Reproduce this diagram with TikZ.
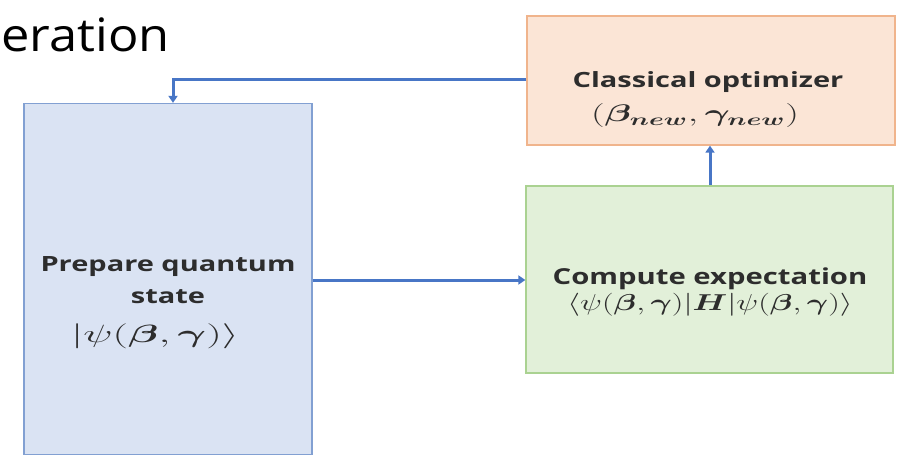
\RequirePackage{fix-cm}
\documentclass[tikz,border=0pt]{standalone}
\usepackage{amsmath}
\usepackage{bm}
\usepackage{graphicx}
\usepackage{fontspec}
\setmainfont{Open Sans}
\usetikzlibrary{arrows.meta}
\definecolor{bluefill}{RGB}{218,227,243}
\definecolor{blueline}{RGB}{130,160,210}
\definecolor{orfill}{RGB}{251,229,214}
\definecolor{orline}{RGB}{240,180,140}
\definecolor{grfill}{RGB}{226,240,217}
\definecolor{grline}{RGB}{170,210,145}
\definecolor{arrowc}{RGB}{72,118,198}
\definecolor{txt}{RGB}{45,45,45}
\tikzset{
  boxst/.style={draw, line width=1.3pt, inner sep=0pt},
  conn/.style={draw=arrowc, line width=3pt, -{Triangle[length=7pt,width=9pt]}},
  lbl/.style={text=txt, font=\bfseries\fontsize{21}{25}\selectfont, inner sep=0pt},
  mth/.style={text=txt, inner sep=0pt},
}
\begin{document}
\begin{tikzpicture}[x=1pt,y=-1pt]
\useasboundingbox (0,0) rectangle (909,462);
% boxes
\node[boxst, fill=bluefill, draw=blueline, minimum width=288pt, minimum height=351pt] (prep) at (168,279) {};
\node[boxst, fill=orfill, draw=orline, minimum width=368pt, minimum height=129pt] (opt) at (711,80.5) {};
\node[boxst, fill=grfill, draw=grline, minimum width=367pt, minimum height=187pt] (comp) at (709.5,279.5) {};
% texts
\node[lbl] (t1) at (168,267) {\scalebox{1.38}[1]{Prepare quantum}};
\node[lbl] (t2) at (168,297) {\scalebox{1.38}[1]{state}};
\node[mth, font=\fontsize{25}{30}\selectfont] (t3) at (155,336) {\scalebox{1.75}[1]{$|\psi(\bm{\beta},\bm{\gamma})\rangle$}};
\node[lbl] (t4) at (708,82) {\scalebox{1.38}[1]{Classical optimizer}};
\node[mth, font=\fontsize{24}{28}\selectfont] (t5) at (695,116) {\scalebox{1.6}[1]{$(\bm{\beta}_{\bm{new}},\bm{\gamma}_{\bm{new}})$}};
\node[lbl, font=\bfseries\fontsize{22}{26}\selectfont] (t6) at (710,279) {\scalebox{1.33}[1]{Compute expectation}};
\node[mth, font=\fontsize{23}{27}\selectfont] (t7) at (710,305) {\scalebox{1.42}[1]{$\langle\psi(\bm{\beta},\bm{\gamma})|\bm{H}|\psi(\bm{\beta},\bm{\gamma})\rangle$}};
\node[anchor=west, inner sep=0pt, font=\fontsize{46}{50}\selectfont] (hw) at (1,35) {\scalebox{1.1}[1]{eration}};
% connectors
\coordinate (c1) at (173,80);
\draw[conn] (opt.west |- 0,80) -- (c1) -- (prep.north -| c1);
\draw[conn] (comp.north -| 710,0) -- (opt.south -| 710,0);
\draw[conn] (prep.east |- 0,280) -- (comp.west |- 0,280);
\end{tikzpicture}
\end{document}
